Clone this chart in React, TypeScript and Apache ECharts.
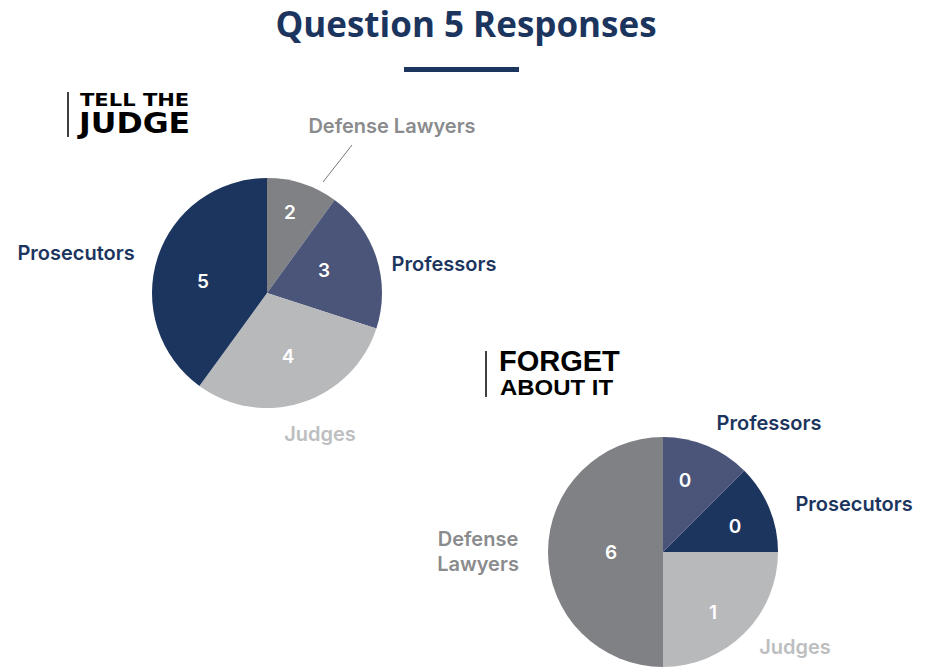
import React, { useEffect, useRef } from "react";
import * as echarts from "echarts";

// Tell the Judge pie (clockwise from 12 o'clock)
const judgeCategories = ["Defense Lawyers", "Professors", "Judges", "Prosecutors"];
const judgeSliceShares = [1, 2, 3, 4];
const judgeCountLabels = ["2", "3", "4", "5"];

// Forget About It pie (clockwise from 12 o'clock)
const forgetCategories = ["Professors", "Prosecutors", "Judges", "Defense\nLawyers"];
const forgetSliceShares = [1, 1, 2, 4];
const forgetCountLabels = ["0", "0", "1", "6"];

const titleText = "Question 5 Responses";

const sliceColors: Record<string, string> = {
  "Defense Lawyers": "#808185",
  "Defense\nLawyers": "#808185",
  Professors: "#4b557a",
  Judges: "#b8b9bb",
  Prosecutors: "#1c355e",
};
const nameColors: Record<string, string> = {
  "Defense Lawyers": "#8a8b8d",
  "Defense\nLawyers": "#8a8b8d",
  Professors: "#1c355e",
  Judges: "#bdbec0",
  Prosecutors: "#1c355e",
};

// label anchor positions (layout only)
const judgeCountPos = [[290, 212], [324, 270], [288, 356], [203, 281]];
const judgeNamePos = [[392, 126], [444, 264], [320, 434], [76, 253]];
const forgetCountPos = [[685, 480], [735, 526], [713, 612], [611, 552]];
const forgetNamePos = [[769, 423], [854, 504], [795, 647], [478, 551]];

const LABEL_FONT = "Inter, 'Noto Sans', sans-serif";

function buildPie(
  id: string,
  cats: string[],
  shares: number[],
  counts: string[],
  center: [number, number],
  countPos: number[][],
  namePos: number[][]
) {
  const data = cats.map((c, i) => ({
    name: c,
    value: shares[i],
    count: counts[i],
    itemStyle: { color: sliceColors[c] },
  }));
  const countSeries = {
    type: "pie",
    id: id + "-counts",
    center,
    radius: 115,
    startAngle: 90,
    clockwise: true,
    silent: true,
    data,
    itemStyle: { borderWidth: 0 },
    label: {
      show: true,
      position: "inside",
      formatter: (p: any) => p.data.count,
      color: "#ffffff",
      fontFamily: LABEL_FONT,
      fontWeight: 600,
      fontSize: 19,
    },
    labelLine: { show: false },
    labelLayout: (p: any) => ({
      x: countPos[p.dataIndex][0],
      y: countPos[p.dataIndex][1],
      align: "center",
      verticalAlign: "middle",
    }),
  };
  const nameSeries = {
    type: "pie",
    id: id + "-names",
    center,
    radius: 115,
    startAngle: 90,
    clockwise: true,
    silent: true,
    data: cats.map((c, i) => ({
      name: c,
      value: shares[i],
      itemStyle: { color: "rgba(0,0,0,0)" },
      label: { color: nameColors[c] },
    })),
    label: {
      show: true,
      position: "outside",
      formatter: (p: any) => p.name,
      fontFamily: LABEL_FONT,
      fontWeight: 600,
      fontSize: 20,
      lineHeight: 25,
      align: "center",
      overflow: "none",
      width: 200,
    },
    labelLine: { show: false },
    labelLayout: (p: any) => ({
      x: namePos[p.dataIndex][0],
      y: namePos[p.dataIndex][1],
      align: "center",
      verticalAlign: "middle",
    }),
  };
  return [countSeries, nameSeries];
}

export default function App() {
  const ref = useRef<HTMLDivElement>(null);
  useEffect(() => {
    if (!ref.current) return;
    const chart = echarts.init(ref.current, undefined, { renderer: "svg" });
    chart.setOption({
      animation: false,
      backgroundColor: "#ffffff",
      title: {
        text: titleText,
        left: "center",
        top: 1,
        textStyle: {
          fontFamily: "'Open Sans', sans-serif",
          fontWeight: 700,
          fontSize: 35,
          color: "#1c355e",
        },
      },
      graphic: [
        { type: "rect", shape: { x: 404, y: 67, width: 115, height: 5 }, style: { fill: "#1c355e" } },
        { type: "line", shape: { x1: 68, y1: 92, x2: 68, y2: 137 }, style: { stroke: "#000", lineWidth: 1.5 } },
        {
          type: "text",
          x: 80,
          y: 91,
          scaleX: 1.17,
          style: { text: "TELL THE", fontFamily: "'DejaVu Sans', sans-serif", fontWeight: 700, fontSize: 18, fill: "#000" },
        },
        {
          type: "text",
          x: 79,
          y: 108,
          scaleX: 1.09,
          style: { text: "JUDGE", fontFamily: "'DejaVu Sans', sans-serif", fontWeight: 700, fontSize: 29, fill: "#000" },
        },
        { type: "line", shape: { x1: 486, y1: 351, x2: 486, y2: 397 }, style: { stroke: "#000", lineWidth: 1.5 } },
        {
          type: "text",
          x: 499,
          y: 346,
          style: { text: "FORGET", fontFamily: "'Liberation Sans', Arial, sans-serif", fontWeight: 700, fontSize: 29, fill: "#000" },
        },
        {
          type: "text",
          x: 500,
          y: 376,
          scaleX: 1.09,
          style: { text: "ABOUT IT", fontFamily: "'Liberation Sans', Arial, sans-serif", fontWeight: 700, fontSize: 22, fill: "#000" },
        },
        { type: "line", shape: { x1: 323, y1: 182, x2: 352, y2: 145 }, style: { stroke: "#777", lineWidth: 1 } },
      ],
      series: [
        ...buildPie("judge", judgeCategories, judgeSliceShares, judgeCountLabels, [267, 293], judgeCountPos, judgeNamePos),
        ...buildPie("forget", forgetCategories, forgetSliceShares, forgetCountLabels, [663, 552], forgetCountPos, forgetNamePos),
      ],
    });
    return () => chart.dispose();
  }, []);
  return (
    <div
      ref={ref}
      style={{ position: "fixed", left: 0, top: 0, width: 932, height: 667 }}
    />
  );
}
